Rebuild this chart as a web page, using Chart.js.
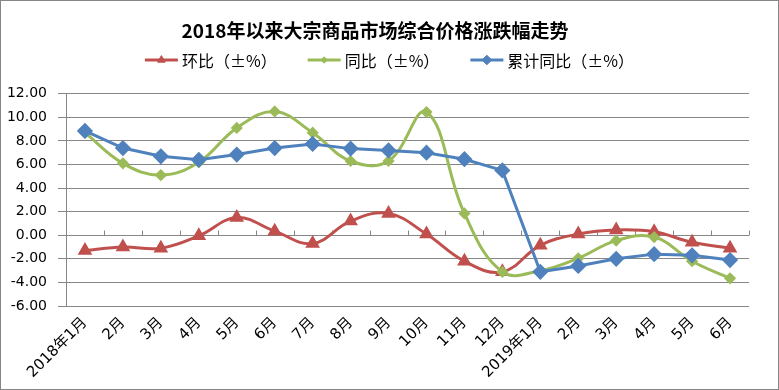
<!DOCTYPE html>
<html lang="zh-CN">
<head>
    <meta charset="UTF-8">
    <title>2018年以来大宗商品市场综合价格涨跌幅走势</title>
    <script src="https://cdn.jsdelivr.net/npm/chart.js"></script>
    <style>
        body { margin: 0; background: #fff; }
        #box { width: 777px; height: 388px; border: 1px solid #868686; }
    </style>
</head>
<body>
<div id="box">
    <canvas id="trendChart" width="777" height="388"></canvas>
</div>

<script>
    // 月份
    const months = ['2018年1月', '2月', '3月', '4月', '5月', '6月', '7月', '8月', '9月', '10月', '11月', '12月',
        '2019年1月', '2月', '3月', '4月', '5月', '6月'];
    // 系列名称
    const seriesNames = ['环比（±%）', '同比（±%）', '累计同比（±%）'];
    // 环比
    const huanbi = [-1.3, -1.0, -1.1, -0.05, 1.5, 0.35, -0.7, 1.2, 1.85, 0.1, -2.2, -3.1,
        -0.85, 0.1, 0.45, 0.3, -0.6, -1.1];
    // 同比
    const tongbi = [8.7, 6.1, 5.1, 6.2, 9.1, 10.5, 8.7, 6.3, 6.3, 10.45, 1.85, -3.1,
        -3.0, -1.95, -0.45, -0.15, -2.2, -3.65];
    // 累计同比
    const leiji = [8.85, 7.4, 6.7, 6.4, 6.85, 7.4, 7.75, 7.35, 7.2, 7.0, 6.45, 5.5,
        -3.1, -2.6, -2.0, -1.6, -1.7, -2.1];
    // y 轴范围
    const yMin = -6, yMax = 12, yStep = 2;

    const gridGray = '#868686';
    const cjk = '"Noto Sans CJK SC"';
    const numFont = '"DejaVu Sans", "Noto Sans CJK SC"';

    // 0 刻度线上的分类刻度
    const zeroTicks = {
        id: 'zeroTicks',
        beforeDatasetsDraw(chart) {
            const {ctx, scales: {x, y}} = chart;
            const y0 = Math.round(y.getPixelForValue(0)) + 0.5;
            const half = (x.getPixelForValue(1) - x.getPixelForValue(0)) / 2;
            ctx.save();
            ctx.strokeStyle = gridGray;
            ctx.lineWidth = 1;
            ctx.beginPath();
            for (let i = 0; i <= months.length; i++) {
                const px = Math.round(x.getPixelForValue(i) - half) + 0.5;
                ctx.moveTo(px, y0 - 5);
                ctx.lineTo(px, y0);
            }
            ctx.stroke();
            ctx.restore();
        }
    };

    // 图例：线 + 标记
    const lineLegend = {
        id: 'lineLegend',
        afterDraw(chart) {
            const ctx = chart.ctx;
            const lineW = 33, gap = 4, itemGap = 31, y = 59;
            ctx.save();
            ctx.font = '16px ' + cjk;
            const widths = seriesNames.map(t => ctx.measureText(t).width);
            const total = widths.reduce((a, b) => a + b, 0) + 3 * (lineW + gap) + 2 * itemGap;
            let x = (chart.width - total) / 2;
            [0, 1, 2].forEach(i => {
                const ds = chart.data.datasets.find(d => d.label === seriesNames[i]);
                ctx.strokeStyle = ds.borderColor;
                ctx.fillStyle = ds.borderColor;
                ctx.lineWidth = 3;
                ctx.beginPath();
                ctx.moveTo(x, y);
                ctx.lineTo(x + lineW, y);
                ctx.stroke();
                ctx.lineWidth = 1;
                Chart.helpers.drawPoint(ctx, {
                    pointStyle: ds.pointStyle, radius: ds.pointRadius * 0.8, rotation: 0, borderWidth: 1
                }, x + lineW / 2, y);
                ctx.fillStyle = '#000';
                ctx.textBaseline = 'middle';
                ctx.textAlign = 'left';
                ctx.fillText(seriesNames[i], x + lineW + gap, y + 1);
                x += lineW + gap + widths[i] + itemGap;
            });
            ctx.restore();
        }
    };

    const ctx = document.getElementById('trendChart').getContext('2d');
    const trendChart = new Chart(ctx, {
        type: 'line',
        data: {
            labels: months,
            datasets: [{
                label: seriesNames[0],
                data: huanbi,
                borderColor: '#C0504D',
                backgroundColor: '#C0504D',
                borderWidth: 3,
                tension: 0.4,
                pointStyle: 'triangle',
                pointRadius: 5.5,
                order: 2
            }, {
                label: seriesNames[1],
                data: tongbi,
                borderColor: '#9BBB59',
                backgroundColor: '#9BBB59',
                borderWidth: 3,
                tension: 0.4,
                pointStyle: 'rectRot',
                pointRadius: 4,
                order: 1
            }, {
                label: seriesNames[2],
                data: leiji,
                borderColor: '#4F81BD',
                backgroundColor: '#4F81BD',
                borderWidth: 3,
                tension: 0,
                pointStyle: 'rectRot',
                pointRadius: 6,
                order: 0
            }]
        },
        options: {
            responsive: false,
            animation: false,
            layout: {padding: {left: 0, right: 29, top: 0, bottom: 0}},
            plugins: {
                legend: {display: false},
                tooltip: {enabled: false},
                title: {
                    display: true,
                    text: '2018年以来大宗商品市场综合价格涨跌幅走势',
                    color: '#000',
                    font: {family: cjk, size: 19, weight: 'bold', lineHeight: 1.2},
                    padding: {top: 18, bottom: 52}
                }
            },
            scales: {
                x: {
                    offset: true,
                    grid: {display: false, drawTicks: false},
                    border: {display: false},
                    ticks: {
                        autoSkip: false,
                        maxRotation: 45,
                        minRotation: 45,
                        padding: 8,
                        color: '#000',
                        font: {family: numFont, size: 15}
                    },
                    afterFit(scale) { scale.height = 83; }
                },
                y: {
                    min: yMin,
                    max: yMax,
                    ticks: {
                        stepSize: yStep,
                        padding: 11,
                        color: '#000',
                        font: {family: numFont, size: 14},
                        callback: v => v.toFixed(2)
                    },
                    grid: {color: gridGray, tickLength: 8},
                    border: {color: gridGray},
                    afterFit(scale) { scale.width = 65; }
                }
            }
        },
        plugins: [zeroTicks, lineLegend]
    });
</script>
</body>
</html>
